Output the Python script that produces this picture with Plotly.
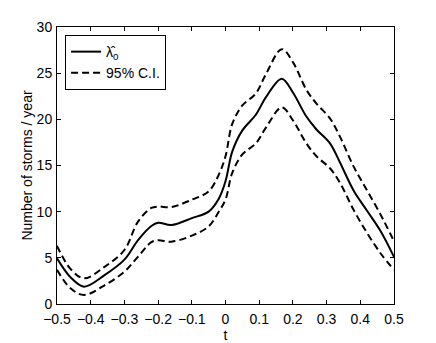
import plotly.graph_objects as go

# valeurs
t = [-0.5, -0.46, -0.42, -0.36, -0.30, -0.26, -0.22, -0.20, -0.16, -0.10, -0.05,
     -0.02, 0.0, 0.02, 0.05, 0.09, 0.12, 0.167, 0.20, 0.24, 0.27, 0.31, 0.34,
     0.38, 0.42, 0.46, 0.5]
lam = [4.95, 2.9, 1.88, 3.1, 4.8, 6.9, 8.45, 8.8, 8.56, 9.3, 10.0,
       11.4, 13.3, 16.5, 18.8, 20.5, 22.4, 24.4, 22.9, 20.3, 18.9, 17.4, 15.3,
       12.3, 10.1, 7.9, 5.1]
ci_hi = [6.3, 3.8, 2.78, 4.0, 5.85, 8.9, 10.4, 10.55, 10.5, 11.3, 12.2,
         14.0, 16.0, 19.5, 21.5, 22.8, 24.9, 27.6, 26.2, 23.2, 21.7, 20.1, 18.1,
         14.9, 12.3, 9.7, 6.8]
ci_lo = [3.7, 1.7, 0.98, 2.0, 3.5, 5.1, 6.7, 6.9, 6.75, 7.4, 8.4,
         10.0, 11.3, 14.2, 16.2, 17.4, 19.1, 21.3, 19.9, 17.4, 16.0, 14.7, 13.1,
         10.2, 7.7, 5.5, 3.7]

xticks = [-0.5, -0.4, -0.3, -0.2, -0.1, 0, 0.1, 0.2, 0.3, 0.4, 0.5]
xlabels = ["\u22120.5", "\u22120.4", "\u22120.3", "\u22120.2", "\u22120.1",
           "0", "0.1", "0.2", "0.3", "0.4", "0.5"]
yticks = [0, 5, 10, 15, 20, 25, 30]

FONT = "Liberation Sans, Arial, sans-serif"
DASH = "7px,4px"

fig = go.Figure()
fig.add_trace(go.Scatter(x=t, y=lam, mode="lines", name="\u03bb\u0302<sub>0</sub>",
                         line=dict(color="black", width=2, shape="spline")))
fig.add_trace(go.Scatter(x=t, y=ci_hi, mode="lines", name="95% C.I.",
                         line=dict(color="black", width=2, dash=DASH, shape="spline")))
fig.add_trace(go.Scatter(x=t, y=ci_lo, mode="lines", name="95% C.I.", showlegend=False,
                         line=dict(color="black", width=2, dash=DASH, shape="spline")))

axis = dict(showline=True, linecolor="black", linewidth=1, mirror="allticks",
            ticks="inside", ticklen=4, tickcolor="black", showgrid=False,
            zeroline=False, automargin=False,
            tickfont=dict(size=14, color="black", family=FONT))

fig.update_xaxes(range=[-0.5, 0.5], tickvals=xticks, ticktext=xlabels,
                 ticklabelstandoff=2,
                 title=dict(text="t", font=dict(size=14, color="black", family=FONT),
                            standoff=0), **axis)
fig.update_yaxes(range=[0, 30], tickvals=yticks, ticklabelstandoff=1,
                 title=dict(text="Number of storms / year",
                            font=dict(size=14, color="black", family=FONT), standoff=0),
                 **axis)

# la page a une marge de 8 px autour de la figure -> on la retire ici
fig.update_layout(
    width=428, height=335, paper_bgcolor="white", plot_bgcolor="white",
    margin=dict(l=49, r=42, t=19, b=39),
    font=dict(family=FONT, color="black"),
    legend=dict(x=0.024, y=0.971, xanchor="left", yanchor="top",
                bordercolor="black", borderwidth=1, bgcolor="white",
                font=dict(size=14, color="black", family=FONT)),
)

fig.write_html("out.html")
